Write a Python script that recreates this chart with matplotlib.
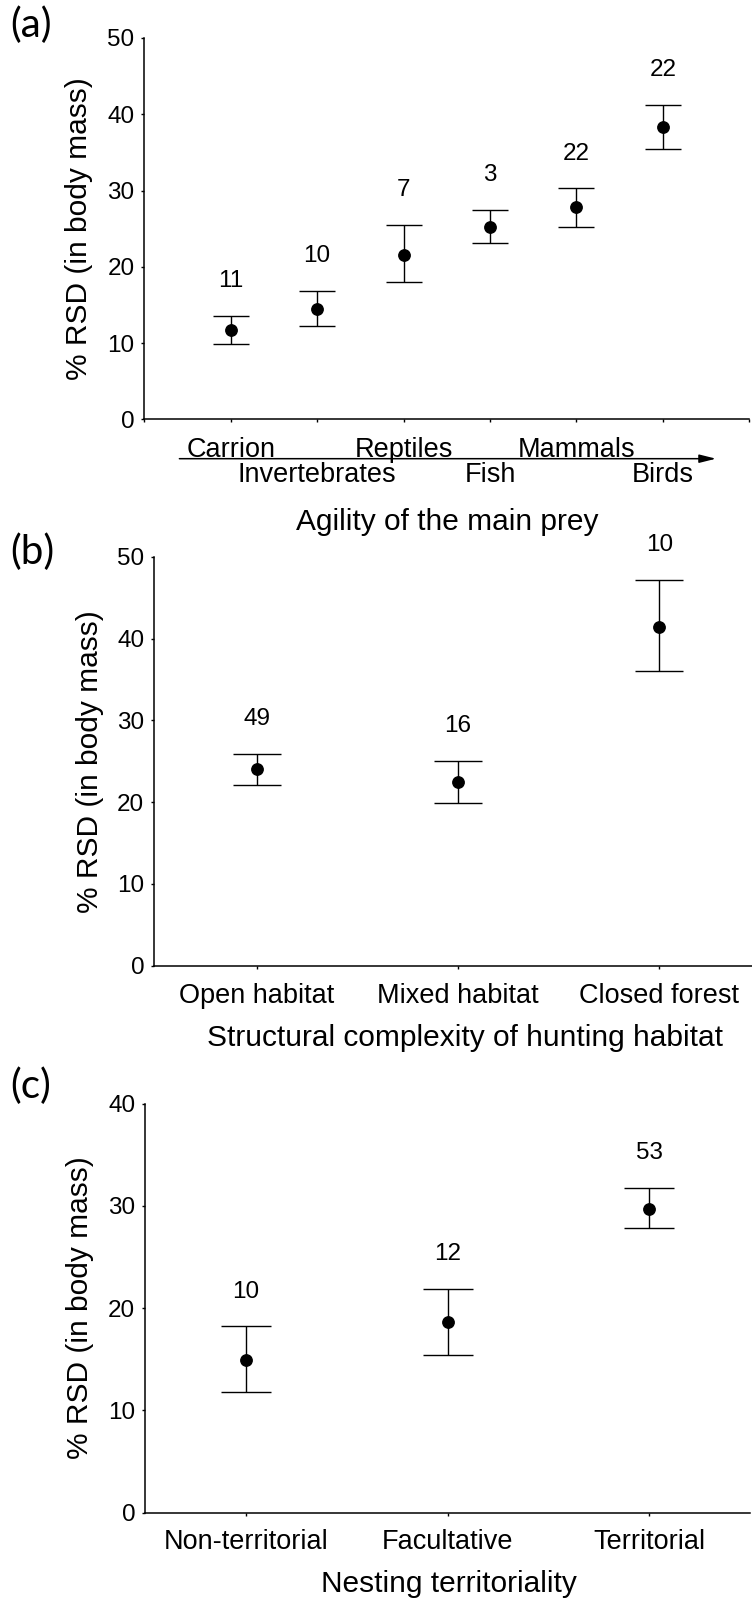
import numpy as np
import matplotlib.pyplot as plt

plt.rcParams['font.family'] = ['Liberation Sans', 'DejaVu Sans']

# panel (a): agility of the main prey
preyCats = ["Carrion", "Invertebrates", "Reptiles", "Fish", "Mammals", "Birds"]
preyMean = [11.7, 14.5, 21.6, 25.2, 27.8, 38.3]
preyUpper = [13.6, 16.9, 25.5, 27.5, 30.3, 41.2]
preyLower = [9.9, 12.3, 18.0, 23.1, 25.2, 35.4]
preyN = [11, 10, 7, 3, 22, 22]

# panel (b): hunting habitat
habitatCats = ["Open habitat", "Mixed habitat", "Closed forest"]
habitatMean = [24.1, 22.4, 41.4]
habitatUpper = [25.9, 25.0, 47.2]
habitatLower = [22.1, 19.95, 36.0]
habitatN = [49, 16, 10]

# panel (c): nesting territoriality
nestCats = ["Non-territorial", "Facultative", "Territorial"]
nestMean = [14.9, 18.6, 29.7]
nestUpper = [18.2, 21.9, 31.75]
nestLower = [11.8, 15.45, 27.8]
nestN = [10, 12, 53]

W, H = 752, 1602
fig = plt.figure(figsize=(W / 100, H / 100), dpi=100, facecolor="white")


def px_axes(left, top, right, bottom):
    return fig.add_axes([left / W, 1 - bottom / H, (right - left) / W, (bottom - top) / H])


def style(ax, ymax):
    ax.spines["top"].set_visible(False)
    ax.spines["right"].set_visible(False)
    ax.spines["left"].set_linewidth(1.1)
    ax.spines["bottom"].set_linewidth(1.1)
    ax.set_ylim(0, ymax)
    ax.set_yticks(np.arange(0, ymax + 1, 10))
    ax.tick_params(direction="out", length=2.5, width=1.0, labelsize=17.5,
                   colors="black")
    ax.tick_params(axis="y", pad=4.5)
    ax.set_ylabel("% RSD (in body mass)", fontsize=21.5, ha="center", va="center")


def draw(ax, mean, upper, lower, ns, cap):
    x = np.arange(1, len(mean) + 1)
    mean = np.array(mean)
    err = [mean - np.array(lower), np.array(upper) - mean]
    ax.errorbar(x, mean, yerr=err, fmt="o", color="black", ms=8.2,
                capsize=cap, elinewidth=1.0, capthick=1.0)
    for xi, top, n in zip(x, upper, ns):
        ax.annotate(str(n), xy=(xi, top), xytext=(0, 20.7), textcoords="offset points",
                    ha="center", va="baseline", fontsize=17.5)


# (a)
ax1 = px_axes(144.3, 37.9, 749.3, 419.5)
style(ax1, 50)
ax1.set_xlim(0, 7)
ax1.set_xticks(range(0, 8))
ax1.set_xticklabels([])
draw(ax1, preyMean, preyUpper, preyLower, preyN, 13)
for i, name in enumerate(preyCats):
    ax1.annotate(name, xy=(i + 1, 0), xycoords=("data", "axes fraction"),
                 xytext=(0, -26.8 if i % 2 == 0 else -45.2), textcoords="offset points",
                 ha="center", va="baseline", fontsize=19.5)
ax1.annotate("", xy=(0.945, -0.1027), xytext=(0.058, -0.1027),
             xycoords="axes fraction", textcoords="axes fraction",
             arrowprops=dict(arrowstyle="-|>,head_length=1.0,head_width=0.25",
                             mutation_scale=10, color="black", lw=1.1,
                             shrinkA=0, shrinkB=0))
ax1.set_xlabel("Agility of the main prey", fontsize=21.5, va="baseline")
ax1.xaxis.set_label_coords(0.5, -110.5 / 381.6)
ax1.yaxis.set_label_coords(-65.1 / 605, 0.5)

# (b)
ax2 = px_axes(154, 556.7, 752, 965.7)
style(ax2, 50)
ax2.set_xlim(0.49, 3.46)
ax2.set_xticks([1, 2, 3])
ax2.tick_params(axis="x", pad=24.2)
ax2.set_xticklabels(habitatCats, fontsize=19.5, va="baseline")
draw(ax2, habitatMean, habitatUpper, habitatLower, habitatN, 17.3)
ax2.set_xlabel("Structural complexity of hunting habitat", fontsize=21.5, va="baseline")
ax2.xaxis.set_label_coords(0.52, -80.3 / 409)
ax2.yaxis.set_label_coords(-64 / 598, 0.5)

# (c)
ax3 = px_axes(145, 1103.6, 750, 1512.5)
style(ax3, 40)
ax3.set_xlim(0.5, 3.5)
ax3.set_xticks([1, 2, 3])
ax3.tick_params(axis="x", pad=23.8)
ax3.set_xticklabels(nestCats, fontsize=19.5, va="baseline")
draw(ax3, nestMean, nestUpper, nestLower, nestN, 18)
ax3.set_xlabel("Nesting territoriality", fontsize=21.5, va="baseline")
ax3.xaxis.set_label_coords(0.503, -79.5 / 408.9)
ax3.yaxis.set_label_coords(-65 / 605, 0.5)

# panel letters
for letter, base in [("(a)", 37), ("(b)", 564), ("(c)", 1098)]:
    fig.text(10 / W, 1 - base / H, letter, family="Lato", fontsize=29,
             ha="left", va="baseline")

fig.savefig("out.png", dpi=100, facecolor="white")
